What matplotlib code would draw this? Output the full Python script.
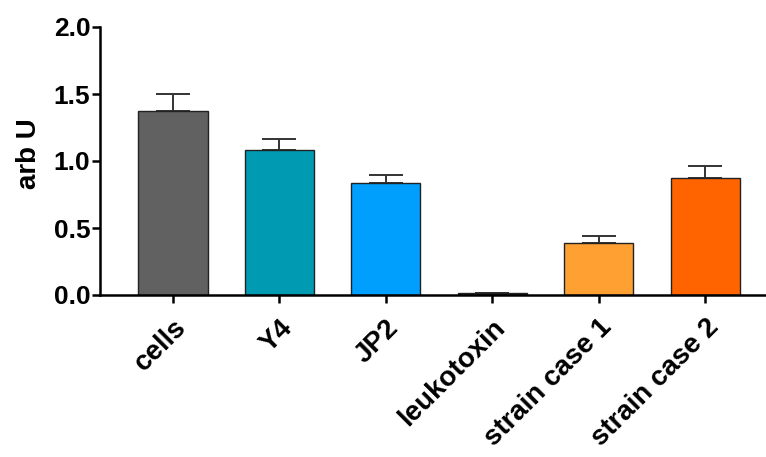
import numpy as np
import matplotlib
matplotlib.use("Agg")
import matplotlib.pyplot as plt
from matplotlib.transforms import ScaledTranslation

# Values
groups = ["cells", "Y4", "JP2", "leukotoxin", "strain case 1", "strain case 2"]
means = [1.375, 1.08, 0.835, 0.012, 0.385, 0.87]
errors = [0.125, 0.085, 0.06, 0.004, 0.055, 0.095]
colors = ["#616161", "#009ab3", "#009ffd", "#333333", "#ffa033", "#ff6400"]
y_ticks = [0.0, 0.5, 1.0, 1.5, 2.0]

plt.rcParams["font.family"] = ["Liberation Sans", "DejaVu Sans"]
plt.rcParams["font.weight"] = "bold"

fig = plt.figure(figsize=(7.66, 4.57), dpi=100)
ax = fig.add_axes([100 / 766, 162 / 457, 666 / 766, 268 / 457])

x = np.arange(len(groups))
ax.bar(x, means, width=0.65, color=colors, edgecolor="#222222", linewidth=1.0, zorder=2)
ax.errorbar(
    x,
    means,
    yerr=[np.zeros(len(errors)), errors],
    fmt="none",
    ecolor="#333333",
    elinewidth=1.4,
    capsize=12,
    capthick=1.4,
    zorder=1,
)

ax.set_xlim(-0.685, 5.57)
ax.set_ylim(0, 2.0)
ax.set_yticks(y_ticks)
ax.set_yticklabels([f"{t:.1f}" for t in y_ticks], fontsize=19, fontweight="bold")
ax.set_xticks(x)
ax.set_xticklabels(groups, fontsize=20, fontweight="bold", rotation=45,
                   ha="right", va="top", rotation_mode="anchor")
ax.set_ylabel("arb U", fontsize=20, fontweight="bold")
ax.yaxis.set_label_coords(-0.087, 0.527)

# shift rotated labels a touch so their ends sit like the reference
offset = ScaledTranslation(1 / 100, 0, fig.dpi_scale_trans)
for lbl in ax.get_xticklabels():
    lbl.set_transform(lbl.get_transform() + offset)

for side in ["top", "right"]:
    ax.spines[side].set_visible(False)
for side in ["left", "bottom"]:
    ax.spines[side].set_linewidth(1.8)
ax.tick_params(axis="both", width=1.8, length=6, direction="out")
ax.tick_params(axis="y", pad=1)
ax.tick_params(axis="x", pad=8)

fig.savefig("out.png", dpi=100)
